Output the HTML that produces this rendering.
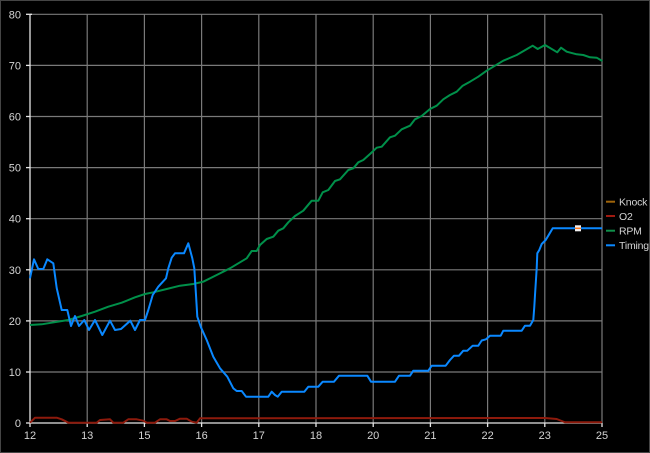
<!DOCTYPE html>
<html>
<head>
<meta charset="utf-8">
<style>
html,body{margin:0;padding:0;background:#000;}
svg{display:block;}
text{font-family:"Liberation Sans",sans-serif;font-size:11px;fill:#d4d4d4;}
.lg{font-size:10.5px;letter-spacing:-0.2px;}
</style>
</head>
<body>
<svg width="650" height="453" viewBox="0 0 650 453" xmlns="http://www.w3.org/2000/svg">
<rect x="0" y="0" width="650" height="453" fill="#000"/>
<rect x="0.5" y="0.5" width="649" height="452" fill="none" stroke="#8a8a8a" stroke-width="1" stroke-dasharray="1,1"/>

<!-- grid -->
<g stroke="#7a7a7a" stroke-width="1.2" fill="none">
<line x1="30" y1="14.3" x2="602" y2="14.3"/>
<line x1="30" y1="65.4" x2="602" y2="65.4"/>
<line x1="30" y1="116.5" x2="602" y2="116.5"/>
<line x1="30" y1="167.6" x2="602" y2="167.6"/>
<line x1="30" y1="218.7" x2="602" y2="218.7"/>
<line x1="30" y1="269.8" x2="602" y2="269.8"/>
<line x1="30" y1="320.9" x2="602" y2="320.9"/>
<line x1="30" y1="372" x2="602" y2="372"/>
<line x1="87.2" y1="14.3" x2="87.2" y2="423"/>
<line x1="144.4" y1="14.3" x2="144.4" y2="423"/>
<line x1="201.6" y1="14.3" x2="201.6" y2="423"/>
<line x1="258.8" y1="14.3" x2="258.8" y2="423"/>
<line x1="316" y1="14.3" x2="316" y2="423"/>
<line x1="373.2" y1="14.3" x2="373.2" y2="423"/>
<line x1="430.4" y1="14.3" x2="430.4" y2="423"/>
<line x1="487.6" y1="14.3" x2="487.6" y2="423"/>
<line x1="544.8" y1="14.3" x2="544.8" y2="423"/>
<line x1="602" y1="14.3" x2="602" y2="423"/>
</g>

<!-- axes -->
<g stroke="#e6e6e6" stroke-width="1.3" fill="none">
<line x1="30" y1="14.3" x2="30" y2="423"/>
<line x1="30" y1="423" x2="602" y2="423"/>
<line x1="26" y1="14.3" x2="32" y2="14.3"/>
<line x1="26" y1="65.4" x2="30" y2="65.4"/>
<line x1="26" y1="116.5" x2="30" y2="116.5"/>
<line x1="26" y1="167.6" x2="30" y2="167.6"/>
<line x1="26" y1="218.7" x2="30" y2="218.7"/>
<line x1="26" y1="269.8" x2="30" y2="269.8"/>
<line x1="26" y1="320.9" x2="30" y2="320.9"/>
<line x1="26" y1="372" x2="30" y2="372"/>
<line x1="26" y1="423" x2="30" y2="423"/>
<line x1="30" y1="423" x2="30" y2="427"/>
<line x1="87.2" y1="423" x2="87.2" y2="427"/>
<line x1="144.4" y1="423" x2="144.4" y2="427"/>
<line x1="201.6" y1="423" x2="201.6" y2="427"/>
<line x1="258.8" y1="423" x2="258.8" y2="427"/>
<line x1="316" y1="423" x2="316" y2="427"/>
<line x1="373.2" y1="423" x2="373.2" y2="427"/>
<line x1="430.4" y1="423" x2="430.4" y2="427"/>
<line x1="487.6" y1="423" x2="487.6" y2="427"/>
<line x1="544.8" y1="423" x2="544.8" y2="427"/>
<line x1="602" y1="423" x2="602" y2="427"/>
</g>

<!-- y labels -->
<g text-anchor="end">
<text x="21" y="18.3">80</text>
<text x="21" y="69.4">70</text>
<text x="21" y="120.5">60</text>
<text x="21" y="171.6">50</text>
<text x="21" y="222.7">40</text>
<text x="21" y="273.8">30</text>
<text x="21" y="324.9">20</text>
<text x="21" y="376">10</text>
<text x="21" y="427">0</text>
</g>
<!-- x labels -->
<g text-anchor="middle">
<text x="30" y="439">12</text>
<text x="87.2" y="439">13</text>
<text x="144.4" y="439">15</text>
<text x="201.6" y="439">16</text>
<text x="258.8" y="439">17</text>
<text x="316" y="439">18</text>
<text x="373.2" y="439">20</text>
<text x="430.4" y="439">21</text>
<text x="487.6" y="439">22</text>
<text x="544.8" y="439">23</text>
<text x="602" y="439">25</text>
</g>

<!-- O2 -->
<polyline fill="none" stroke="#8e1a0c" stroke-width="2" stroke-linejoin="round" points="30,422.7 35,417.7 56.7,417.7 61.7,419.3 68.3,422.7 96.7,422.7 100,420 110,419.3 113.3,422.7 123.3,422.7 128.3,419.3 136.7,419.3 143.3,420.7 146.7,422.7 155,422.7 160,419.3 166.7,419.3 170,421 175,421 180,418.7 186.7,418.7 191.7,421.7 196.7,422.7 200,418.3 545,418 556.7,419 561.7,421 565,422.3 602,422.3"/>

<!-- RPM -->
<polyline fill="none" stroke="#00904a" stroke-width="2" stroke-linejoin="round" points="30,325 41.7,324.3 51.7,322.7 68.3,320 81.7,316 95,311.7 108.3,306.7 121.7,302.7 135,297.3 145,294 153.3,292.3 166.7,289 180,285.7 193.3,284 203.3,281.7 216.7,275 230,268.3 240,262.3 246.7,258.3 251.7,251 256.7,251 260,245 266.7,239 273.3,236.7 278.3,230.7 283.3,228.3 288.3,222.3 295,216 303.3,210.7 311.7,200.7 318.3,200.7 322.7,192.3 328.3,190 335,181 340,179.3 348.3,170 353.3,168.3 358.3,162.3 363.3,160 370,154 376.7,147.7 381.7,146.7 390,137.3 395,135.7 401.7,129.3 410,125.7 415,119.3 421.7,116 430,109 436.7,105.7 443.3,99.3 450,95 456.7,91.7 462.7,85.7 470,81.7 478.3,76.7 486.7,70.7 495,65.7 503.3,60.7 516.7,55 528.3,48.3 532.7,45.7 537.7,49 545,45 557.3,52.3 561,47.7 566.7,51.7 576.7,54.3 583.3,55 590,57.3 596.7,57.7 602.3,61"/>

<!-- Timing -->
<polyline fill="none" stroke="#0a88ff" stroke-width="2" stroke-linejoin="round" points="30,278.3 34,259.3 38.3,269 43.3,269 47.3,259.3 53.3,263.3 56.7,288 61.7,310 67.3,310 71,326 75,316 79,326 84.3,320 89,330 95,320 102.3,335 110,320.7 115,330 121,329 130.3,320.7 135,330 140,320 145,320 148.3,310 152.7,295 158.3,286.7 166,278.3 168.3,268.3 171.7,257.7 175,253.3 184,253.3 188.3,243.3 192.3,258.3 194.3,268.3 196,295 197.3,316.7 200.7,326.7 206.7,340 213.3,356.7 220,368.3 227.3,376.7 233.3,388.3 236.7,391 241.7,391 246,396.7 268.3,396.7 271.7,391.7 275,395 277.7,396.7 281.7,391.7 304.3,391.7 308.3,386.7 318.3,386.7 322.7,381.7 334,381.7 339,375.7 367.3,375.7 371,381.7 395,381.7 399,375.7 410,375.7 413.3,370.7 428.3,370.7 431.7,365.7 445.7,365.7 450,360 454,355.7 459,355.7 463.3,350.7 467.3,350.7 472.7,345.7 478.3,345.7 481.7,340.5 486,339.3 490,335.7 500.7,335.7 503.3,330.7 521.7,330.7 525,325.7 530,325.7 533.3,320 534.3,306.7 535,295 536.7,268.3 537.3,253.3 539.3,250 541.7,244 545.7,240 548.3,235.7 552.7,228.3 602,228.3"/>

<!-- marker -->
<rect x="575" y="225.3" width="6" height="6" fill="#f2f2f2"/>
<line x1="575" y1="228.3" x2="581" y2="228.3" stroke="#ff7a20" stroke-width="1.5"/>

<!-- legend -->
<g stroke-width="2">
<line x1="606" y1="201.7" x2="615" y2="201.7" stroke="#a0650a"/>
<line x1="606" y1="216" x2="615" y2="216" stroke="#a01a10"/>
<line x1="606" y1="230.7" x2="615" y2="230.7" stroke="#10904a"/>
<line x1="606" y1="245.3" x2="615" y2="245.3" stroke="#0a88ff"/>
</g>
<g class="lg">
<text class="lg" x="619" y="205.5">Knock</text>
<text class="lg" x="619" y="219.8">O2</text>
<text class="lg" x="619" y="234.5">RPM</text>
<text class="lg" x="619" y="249.1">Timing</text>
</g>
</svg>
</body>
</html>
